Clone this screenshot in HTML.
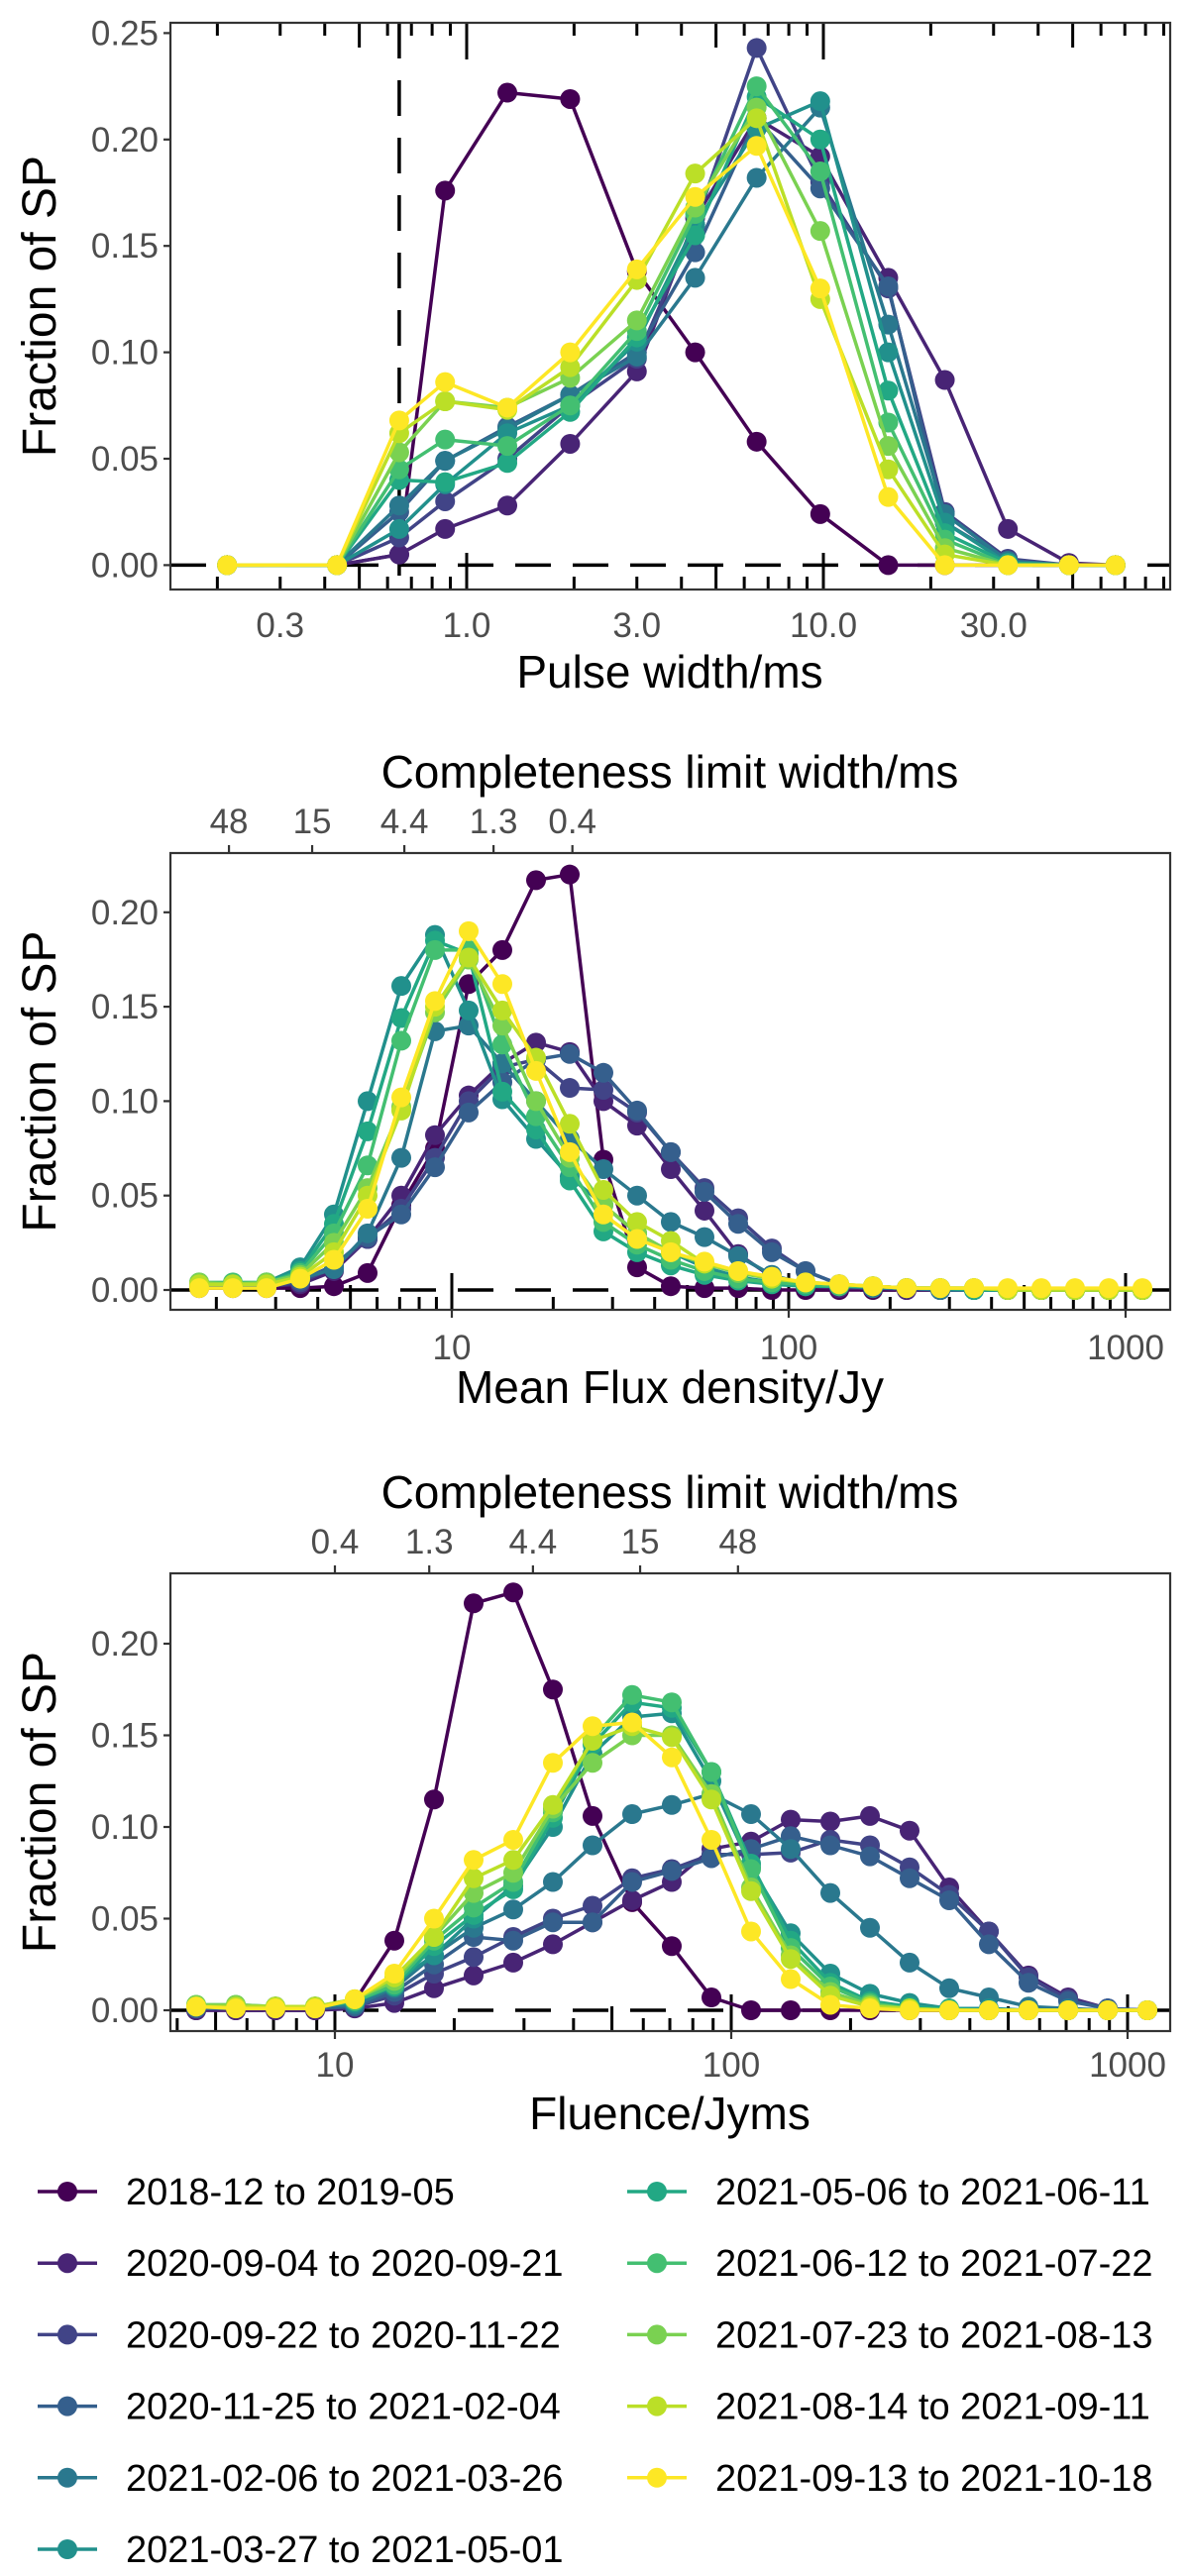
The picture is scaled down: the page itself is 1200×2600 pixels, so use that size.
<!DOCTYPE html>
<html><head><meta charset="utf-8"><style>
html,body{margin:0;padding:0;background:#fff;}
svg{display:block;font-family:"Liberation Sans",sans-serif;}
</style></head><body>
<svg id="fig" width="1200" height="2600" viewBox="0 0 1200 2600" xmlns="http://www.w3.org/2000/svg"></svg>
<script>
const seriesNames = ["2018-12 to 2019-05","2020-09-04 to 2020-09-21","2020-09-22 to 2020-11-22","2020-11-25 to 2021-02-04","2021-02-06 to 2021-03-26","2021-03-27 to 2021-05-01","2021-05-06 to 2021-06-11","2021-06-12 to 2021-07-22","2021-07-23 to 2021-08-13","2021-08-14 to 2021-09-11","2021-09-13 to 2021-10-18"];
const seriesColors = ["#440154","#482475","#414487","#355F8D","#2A788E","#21908C","#22A884","#43BF71","#7AD151","#BBDF27","#FDE725"];

// Panel 1: pulse width
const widthBins = [0.213,0.433,0.647,0.87,1.30,1.95,3.0,4.37,6.5,9.8,15.2,21.9,32.9,48.8,65.9];
const widthS1 = [0,0,0.005,0.176,0.222,0.219,0.138,0.100,0.058,0.024,0,0,0,0,0];
const widthS2 = [0,0,0.005,0.017,0.028,0.057,0.091,0.163,0.210,0.192,0.135,0.087,0.017,0.001,0];
const widthS3 = [0,0,0.013,0.030,0.050,0.075,0.097,0.160,0.243,0.180,0.130,0.025,0.003,0,0];
const widthS4 = [0,0,0.025,0.049,0.065,0.080,0.100,0.147,0.210,0.177,0.131,0.020,0.002,0,0];
const widthS5 = [0,0,0.028,0.049,0.064,0.080,0.098,0.135,0.182,0.215,0.113,0.024,0.002,0,0];
const widthS6 = [0,0,0.017,0.038,0.062,0.075,0.105,0.160,0.205,0.218,0.100,0.020,0.001,0,0];
const widthS7 = [0,0,0.040,0.039,0.048,0.072,0.107,0.155,0.220,0.200,0.082,0.015,0.001,0,0];
const widthS8 = [0,0,0.045,0.059,0.056,0.075,0.110,0.165,0.225,0.185,0.067,0.012,0,0,0];
const widthS9 = [0,0,0.053,0.077,0.074,0.088,0.115,0.168,0.215,0.157,0.056,0.008,0,0,0];
const widthS10 = [0,0,0.062,0.077,0.073,0.093,0.134,0.184,0.210,0.125,0.045,0.005,0,0,0];
const widthS11 = [0,0,0.068,0.086,0.074,0.100,0.139,0.173,0.197,0.130,0.032,0,0,0,0];
const widthTicks = [0.3,1,3,10,30];
const widthTickLabels = ["0.3","1.0","3.0","10.0","30.0"];
const widthLimit = 0.647;
const yTicks1 = [0,0.05,0.10,0.15,0.20,0.25];
const yTickLabels1 = ["0.00","0.05","0.10","0.15","0.20","0.25"];

// Panel 2: mean flux density
const fluxLogBins = [0.25,0.35,0.45,0.55,0.65,0.75,0.85,0.95,1.05,1.15,1.25,1.35,1.45,1.55,1.65,1.75,1.85,1.95,2.05,2.15,2.25,2.35,2.45,2.55,2.65,2.75,2.85,2.95,3.05];
const fluxS1 = [0.001,0.001,0.001,0.001,0.002,0.009,0.045,0.075,0.162,0.18,0.217,0.22,0.069,0.012,0.002,0.001,0.001,0,0,0,0,0,0,0,0,0,0,0,0];
const fluxS2 = [0.002,0.002,0.002,0.003,0.01,0.027,0.05,0.082,0.103,0.12,0.131,0.126,0.10,0.087,0.064,0.042,0.019,0.007,0.002,0.001,0.001,0,0,0,0,0,0,0,0];
const fluxS3 = [0.002,0.002,0.002,0.004,0.012,0.027,0.043,0.07,0.10,0.118,0.122,0.107,0.106,0.094,0.073,0.054,0.038,0.022,0.01,0.003,0.001,0.001,0,0,0,0,0,0,0];
const fluxS4 = [0.002,0.002,0.002,0.005,0.013,0.028,0.04,0.065,0.094,0.11,0.122,0.125,0.115,0.095,0.073,0.052,0.035,0.02,0.01,0.003,0.001,0.001,0,0,0,0,0,0,0];
const fluxS5 = [0.002,0.002,0.003,0.006,0.011,0.03,0.07,0.137,0.14,0.12,0.10,0.08,0.064,0.05,0.036,0.028,0.018,0.008,0.003,0.002,0.001,0.001,0,0,0,0,0,0,0];
const fluxS6 = [0.003,0.003,0.004,0.012,0.04,0.10,0.161,0.188,0.148,0.101,0.08,0.06,0.045,0.03,0.02,0.012,0.007,0.004,0.002,0.002,0.002,0.001,0.001,0,0,0,0,0,0];
const fluxS7 = [0.003,0.003,0.004,0.01,0.035,0.084,0.144,0.185,0.178,0.105,0.085,0.058,0.031,0.02,0.013,0.008,0.005,0.003,0.002,0.002,0.002,0.001,0.001,0,0,0,0,0,0];
const fluxS8 = [0.004,0.004,0.004,0.009,0.03,0.066,0.132,0.18,0.18,0.13,0.092,0.065,0.036,0.024,0.016,0.01,0.006,0.004,0.003,0.002,0.002,0.001,0.001,0.001,0,0,0,0,0];
const fluxS9 = [0.004,0.003,0.004,0.008,0.025,0.054,0.097,0.147,0.175,0.14,0.10,0.07,0.045,0.03,0.02,0.014,0.009,0.006,0.004,0.003,0.002,0.001,0.001,0.001,0,0,0,0,0];
const fluxS10 = [0.003,0.003,0.003,0.007,0.02,0.05,0.095,0.15,0.176,0.148,0.123,0.088,0.053,0.036,0.026,0.014,0.01,0.006,0.004,0.003,0.002,0.001,0.001,0.001,0,0,0,0,0];
const fluxS11 = [0.001,0.001,0.001,0.006,0.016,0.043,0.102,0.153,0.19,0.162,0.116,0.073,0.04,0.027,0.02,0.015,0.01,0.007,0.004,0.003,0.002,0.001,0.001,0.001,0.001,0.001,0.001,0.001,0.001];
const fluxTicks = [10,100,1000];
const fluxTickLabels = ["10","100","1000"];
const fluxTopTicks = [2.18,3.85,7.23,13.3,22.8];
const fluxTopLabels = ["48","15","4.4","1.3","0.4"];
const yTicks2 = [0,0.05,0.10,0.15,0.20];
const yTickLabels2 = ["0.00","0.05","0.10","0.15","0.20"];

// Panel 3: fluence
const fluLogBins = [0.65,0.75,0.85,0.95,1.05,1.15,1.25,1.35,1.45,1.55,1.65,1.75,1.85,1.95,2.05,2.15,2.25,2.35,2.45,2.55,2.65,2.75,2.85,2.95,3.05];
const fluS1 = [0,0,0,0,0.005,0.038,0.115,0.222,0.228,0.175,0.106,0.059,0.035,0.007,0,0,0,0,0,0,0,0,0,0,0];
const fluS2 = [0,0,0,0,0.001,0.004,0.012,0.019,0.026,0.036,0.048,0.06,0.07,0.088,0.092,0.104,0.103,0.106,0.098,0.067,0.043,0.019,0.007,0.001,0];
const fluS3 = [0.001,0.001,0.001,0.001,0.002,0.008,0.02,0.029,0.04,0.05,0.057,0.072,0.077,0.085,0.085,0.086,0.093,0.09,0.078,0.063,0.043,0.018,0.006,0.001,0];
const fluS4 = [0.001,0.001,0.001,0.001,0.002,0.01,0.025,0.04,0.038,0.048,0.048,0.07,0.076,0.083,0.088,0.095,0.09,0.084,0.072,0.06,0.036,0.015,0.005,0.001,0];
const fluS5 = [0.002,0.002,0.002,0.002,0.003,0.012,0.03,0.045,0.055,0.07,0.09,0.107,0.112,0.118,0.107,0.088,0.064,0.045,0.026,0.012,0.007,0.002,0.001,0,0];
const fluS6 = [0.002,0.002,0.002,0.002,0.004,0.015,0.03,0.05,0.068,0.10,0.14,0.16,0.162,0.125,0.078,0.042,0.02,0.009,0.004,0.001,0.001,0,0,0,0];
const fluS7 = [0.002,0.002,0.002,0.002,0.005,0.013,0.035,0.052,0.066,0.105,0.145,0.168,0.165,0.13,0.08,0.038,0.015,0.005,0.002,0.001,0,0,0,0,0];
const fluS8 = [0.003,0.003,0.002,0.002,0.005,0.014,0.038,0.056,0.07,0.108,0.148,0.172,0.168,0.13,0.077,0.034,0.013,0.004,0.001,0,0,0,0,0,0];
const fluS9 = [0.003,0.003,0.002,0.002,0.006,0.016,0.04,0.064,0.075,0.11,0.135,0.15,0.15,0.118,0.067,0.03,0.01,0.003,0.001,0,0,0,0,0,0];
const fluS10 = [0.002,0.002,0.002,0.002,0.006,0.018,0.04,0.072,0.082,0.112,0.147,0.155,0.149,0.115,0.065,0.028,0.008,0.002,0.001,0,0,0,0,0,0];
const fluS11 = [0.002,0.001,0.001,0.001,0.006,0.02,0.05,0.082,0.093,0.135,0.155,0.157,0.138,0.093,0.043,0.017,0.003,0.001,0,0,0,0,0,0,0];
const fluTicks = [10,100,1000];
const fluTickLabels = ["10","100","1000"];
const fluTopTicks = [10,17.3,31.6,58.9,104];
const fluTopLabels = ["0.4","1.3","4.4","15","48"];

const NS = "http://www.w3.org/2000/svg";
const svg = document.getElementById("fig");
function mk(tag, attrs, parent, text) {
  const e = document.createElementNS(NS, tag);
  for (const k in attrs) e.setAttribute(k, attrs[k]);
  if (text !== undefined) e.textContent = text;
  (parent || svg).appendChild(e);
  return e;
}

function drawPanel(cfg) {
  const g = mk("g", {});
  
  
  const L = 172, R = 1181, T = cfg.top, B = cfg.bottom;
  const xs = v => cfg.x0 + cfg.dec * (Math.log10(v) - cfg.l0);
  const ys = v => cfg.y0 - v * cfg.ppu;
  const clipId = "clip-" + cfg.name;
  const defs = mk("defs", {}, g);
  const cp = mk("clipPath", {id: clipId}, defs);
  mk("rect", {x: L, y: T, width: R - L, height: B - T}, cp);
  const plot = mk("g", {"clip-path": "url(#" + clipId + ")"}, g);

  const zl = mk("line", {x1: L, x2: R, y1: ys(0), y2: ys(0), stroke: "#000", "stroke-width": 3.5, "stroke-dasharray": "36 22"}, plot);
  
  
  if (cfg.vline) {
    const vl = mk("line", {x1: xs(cfg.vline), x2: xs(cfg.vline), y1: T, y2: B, stroke: "#000", "stroke-width": 3.5, "stroke-dasharray": "36 22"}, plot);
    
    
  }
  const lt = mk("g", {stroke: "#000", "stroke-width": 3}, plot);
  
  
  for (let k = -2; k <= 4; k++) {
    for (let d = 1; d <= 9; d++) {
      const v = d * Math.pow(10, k);
      const px = xs(v);
      if (px < L || px > R) continue;
      const len = d === 1 ? 37 : (d === 5 ? 25 : 13);
      mk("line", {x1: px, x2: px, y1: B, y2: B - len}, lt);
      if (cfg.topLog) mk("line", {x1: px, x2: px, y1: T, y2: T + len}, lt);
    }
  }
  cfg.series.forEach((vals, si) => {
    const sg = mk("g", {}, plot);
    
    
    const pts = vals.map((v, i) => xs(cfg.bins[i]).toFixed(1) + "," + ys(v).toFixed(1)).join(" ");
    mk("polyline", {points: pts, fill: "none", stroke: seriesColors[si], "stroke-width": 3.5, "stroke-linejoin": "round"}, sg);
    vals.forEach((v, i) => {
      const c = mk("circle", {cx: xs(cfg.bins[i]), cy: ys(v), r: 10, fill: seriesColors[si]}, sg);
      
      
    });
  });
  mk("rect", {x: L, y: T, width: R - L, height: B - T, fill: "none", stroke: "#333", "stroke-width": 2.2}, g);
  cfg.yTicks.forEach((v, i) => {
    mk("line", {x1: L - 7, x2: L, y1: ys(v), y2: ys(v), stroke: "#333", "stroke-width": 2.2}, g);
    const t = mk("text", {x: L - 12, y: ys(v) + 12, "text-anchor": "end", "font-size": 35, fill: "#4d4d4d"}, g, cfg.yLabels[i]);
    
    
  });
  const yt = mk("text", {x: 0, y: 0, transform: "translate(56," + ((T + B) / 2) + ") rotate(-90)", "text-anchor": "middle", "font-size": 48, fill: "#000"}, g, "Fraction of SP");
  
  
  cfg.xTicks.forEach((v, i) => {
    if (cfg.outTicks) mk("line", {x1: xs(v), x2: xs(v), y1: B, y2: B + 8, stroke: "#333", "stroke-width": 2.2}, g);
    const t = mk("text", {x: xs(v), y: cfg.xLabelY, "text-anchor": "middle", "font-size": 35, fill: "#4d4d4d"}, g, cfg.xLabels[i]);
    
    
  });
  const xt = mk("text", {x: 676, y: cfg.xTitleY, "text-anchor": "middle", "font-size": 46, fill: "#000"}, g, cfg.xTitle);
  
  
  if (cfg.topTicks) {
    cfg.topTicks.forEach((v, i) => {
      mk("line", {x1: xs(v), x2: xs(v), y1: T, y2: T - 8, stroke: "#333", "stroke-width": 2.2}, g);
      const t = mk("text", {x: xs(v), y: cfg.topLabelY, "text-anchor": "middle", "font-size": 35, fill: "#4d4d4d"}, g, cfg.topLabels[i]);
      
      
    });
    const tt = mk("text", {x: 676, y: cfg.topTitleY, "text-anchor": "middle", "font-size": 46, fill: "#000"}, g, "Completeness limit width/ms");
    
    
  }
}

drawPanel({name: "pulse-width-panel", top: 23, bottom: 595, x0: 471, dec: 360, l0: 0, y0: 570.4, ppu: 2148,
  bins: widthBins, series: [widthS1,widthS2,widthS3,widthS4,widthS5,widthS6,widthS7,widthS8,widthS9,widthS10,widthS11],
  yTicks: yTicks1, yLabels: yTickLabels1, xTicks: widthTicks, xLabels: widthTickLabels, xLabelY: 643, xTitleY: 694,
  xTitle: "Pulse width/ms", vline: widthLimit, topLog: true, outTicks: false});

drawPanel({name: "flux-density-panel", top: 861, bottom: 1322, x0: 456, dec: 340, l0: 1, y0: 1302, ppu: 1906,
  bins: fluxLogBins.map(l => Math.pow(10, l)), series: [fluxS1,fluxS2,fluxS3,fluxS4,fluxS5,fluxS6,fluxS7,fluxS8,fluxS9,fluxS10,fluxS11],
  yTicks: yTicks2, yLabels: yTickLabels2, xTicks: fluxTicks, xLabels: fluxTickLabels, xLabelY: 1372, xTitleY: 1416,
  xTitle: "Mean Flux density/Jy", topTicks: fluxTopTicks, topLabels: fluxTopLabels, topLabelY: 841, topTitleY: 795, outTicks: true});

drawPanel({name: "fluence-panel", top: 1588, bottom: 2050, x0: 338, dec: 400, l0: 1, y0: 2029, ppu: 1850,
  bins: fluLogBins.map(l => Math.pow(10, l)), series: [fluS1,fluS2,fluS3,fluS4,fluS5,fluS6,fluS7,fluS8,fluS9,fluS10,fluS11],
  yTicks: yTicks2, yLabels: yTickLabels2, xTicks: fluTicks, xLabels: fluTickLabels, xLabelY: 2096, xTitleY: 2149,
  xTitle: "Fluence/Jyms", topTicks: fluTopTicks, topLabels: fluTopLabels, topLabelY: 1568, topTitleY: 1522, outTicks: true});

const lg = mk("g", {});


seriesNames.forEach((name, i) => {
  const col = i < 6 ? 0 : 1;
  const row = i < 6 ? i : i - 6;
  const kx = col === 0 ? 38 : 633;
  const cy = 2212 + row * 72.2;
  const e = mk("g", {}, lg);
  
  
  mk("line", {x1: kx, x2: kx + 60, y1: cy, y2: cy, stroke: seriesColors[i], "stroke-width": 3.5}, e);
  mk("circle", {cx: kx + 30, cy: cy, r: 10, fill: seriesColors[i]}, e);
  mk("text", {x: kx + 89, y: cy + 13, "font-size": 38, fill: "#000"}, e, name);
});
</script>
</body></html>
